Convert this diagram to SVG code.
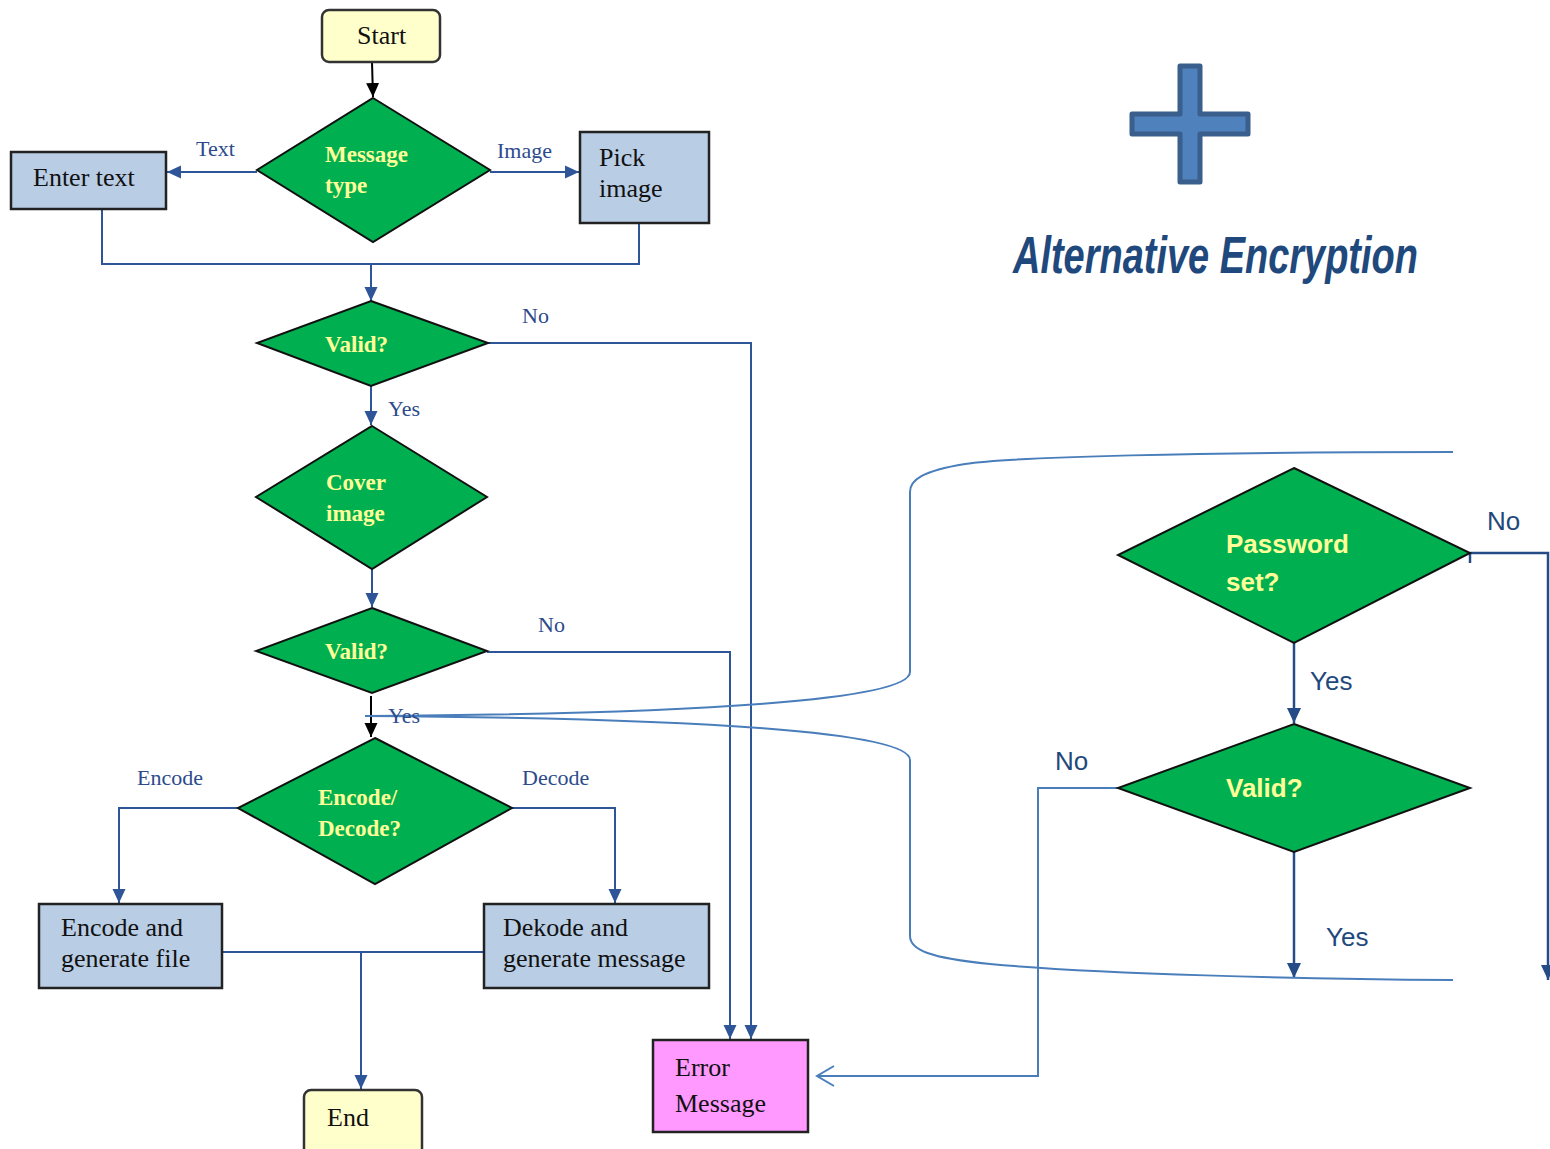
<svg xmlns="http://www.w3.org/2000/svg" width="1550" height="1149" viewBox="0 0 1550 1149">
<style>
.box{fill:#b9cde5;stroke:#222;stroke-width:2.5}
.term{fill:#ffffcc;stroke:#333;stroke-width:2.5}
.err{fill:#ff99ff;stroke:#222;stroke-width:2.5}
.dia{fill:#00b050;stroke:#111;stroke-width:2}
.st{font-family:"Liberation Serif",serif;font-size:26px;fill:#111}
.dt{font-family:"Liberation Serif",serif;font-size:23px;font-weight:bold;fill:#ffff99}
.lb{font-family:"Liberation Serif",serif;font-size:22px;fill:#2c4b8c}
.rd{font-family:"Liberation Sans",sans-serif;font-size:26px;font-weight:bold;fill:#ffff99}
.rl{font-family:"Liberation Sans",sans-serif;font-size:26px;fill:#1f497d}
.c{fill:none;stroke:#2e5597;stroke-width:2}
.ck{fill:none;stroke:#000;stroke-width:2}
.cr{fill:none;stroke:#254c86;stroke-width:2.5}
.cl{fill:none;stroke:#4a7ebb;stroke-width:2}
</style>
<defs>
<marker id="ab" markerUnits="userSpaceOnUse" markerWidth="15" markerHeight="14" refX="14" refY="7" orient="auto"><path d="M0,0.5 L14,7 L0,13.5 z" fill="#2e5597"/></marker>
<marker id="ak" markerUnits="userSpaceOnUse" markerWidth="15" markerHeight="14" refX="14" refY="7" orient="auto"><path d="M0,0.5 L14,7 L0,13.5 z" fill="#000"/></marker>
<marker id="ar" markerUnits="userSpaceOnUse" markerWidth="16" markerHeight="14" refX="15" refY="7" orient="auto"><path d="M0,0 L15,7 L0,14 z" fill="#254c86"/></marker>
<marker id="ao" markerUnits="userSpaceOnUse" markerWidth="20" markerHeight="22" refX="18" refY="11" orient="auto"><path d="M1,1 L18,11 L1,21" fill="none" stroke="#4a7ebb" stroke-width="2"/></marker>
</defs>

<g id="connectors">
<path class="ck" d="M372,62 L373,97" marker-end="url(#ak)"/>
<path class="c" d="M257,172 H167" marker-end="url(#ab)"/>
<path class="c" d="M490,172 H579" marker-end="url(#ab)"/>
<path class="c" d="M102,209 V264 H639 V223"/>
<path class="c" d="M371,264 V301" marker-end="url(#ab)"/>
<path class="c" d="M488,343 H751 V1039" marker-end="url(#ab)"/>
<path class="c" d="M371,386 V425" marker-end="url(#ab)"/>
<path class="c" d="M372,569 V607" marker-end="url(#ab)"/>
<path class="c" d="M487,652 H730 V1039" marker-end="url(#ab)"/>
<path class="ck" d="M371,696 V737" marker-end="url(#ak)"/>
<path class="c" d="M238,808 H119 V903" marker-end="url(#ab)"/>
<path class="c" d="M512,808 H615 V903" marker-end="url(#ab)"/>
<path class="c" d="M222,952 H484"/>
<path class="c" d="M361,952 V1089" marker-end="url(#ab)"/>
<path class="cr" d="M1294,643 V723" marker-end="url(#ar)"/>
<path class="cr" d="M1470,553 H1548 V980" marker-end="url(#ar)"/>
<path class="cr" d="M1470,553 V563"/>
<path class="cr" d="M1294,852 V978" marker-end="url(#ar)"/>
<path class="cl" d="M1118,788 H1038 V1076 H817" marker-end="url(#ao)"/>
</g>

<g id="brace">
<path class="cl" d="M1453,452 C1200,452 1010,457 965,464 C922,471 910,480 910,492 L910,672 C910,700 700,714 365,716"/>
<path class="cl" d="M365,716 C700,718 910,732 910,760 L910,936 C910,950 930,958 990,964 C1100,974 1300,979 1453,980"/>
</g>

<g id="start"><rect class="term" x="322" y="10" width="118" height="52" rx="7"/><text class="st" x="357" y="44">Start</text></g>
<g id="msgtype"><polygon class="dia" points="373,98 490,170 373,242 257,170"/><text class="dt" x="325" y="162">Message</text><text class="dt" x="325" y="193">type</text></g>
<g id="entertext"><rect class="box" x="11" y="152" width="155" height="57"/><text class="st" x="33" y="186">Enter text</text></g>
<g id="pickimage"><rect class="box" x="580" y="132" width="129" height="91"/><text class="st" x="599" y="166">Pick</text><text class="st" x="599" y="197">image</text></g>
<g id="valid1"><polygon class="dia" points="371,301 488,343 371,386 257,343"/><text class="dt" x="325" y="352">Valid?</text></g>
<g id="cover"><polygon class="dia" points="372,426 487,497 372,569 256,497"/><text class="dt" x="326" y="490">Cover</text><text class="dt" x="326" y="521">image</text></g>
<g id="valid2"><polygon class="dia" points="372,608 487,651 372,693 256,651"/><text class="dt" x="325" y="659">Valid?</text></g>
<g id="encdec"><polygon class="dia" points="375,738 512,808 375,884 238,808"/><text class="dt" x="318" y="805">Encode/</text><text class="dt" x="318" y="836">Decode?</text></g>
<g id="encodebox"><rect class="box" x="39" y="904" width="183" height="84"/><text class="st" x="61" y="936">Encode and</text><text class="st" x="61" y="967">generate file</text></g>
<g id="decodebox"><rect class="box" x="484" y="904" width="225" height="84"/><text class="st" x="503" y="936">Dekode and</text><text class="st" x="503" y="967">generate message</text></g>
<g id="end"><rect class="term" x="304" y="1090" width="118" height="70" rx="7"/><text class="st" x="327" y="1126">End</text></g>
<g id="error"><rect class="err" x="653" y="1040" width="155" height="92"/><text class="st" x="675" y="1076">Error</text><text class="st" x="675" y="1112">Message</text></g>

<g id="labels">
<text class="lb" x="196" y="156">Text</text>
<text class="lb" x="497" y="158">Image</text>
<text class="lb" x="522" y="323">No</text>
<text class="lb" x="388" y="416">Yes</text>
<text class="lb" x="538" y="632">No</text>
<text class="lb" x="388" y="723">Yes</text>
<text class="lb" x="137" y="785">Encode</text>
<text class="lb" x="522" y="785">Decode</text>
<text class="rl" x="1487" y="530">No</text>
<text class="rl" x="1310" y="690">Yes</text>
<text class="rl" x="1055" y="770">No</text>
<text class="rl" x="1326" y="946">Yes</text>
</g>

<g id="plus"><polygon points="1180,66 1200,66 1200,114 1248,114 1248,134 1200,134 1200,182 1180,182 1180,134 1132,134 1132,114 1180,114" fill="#4f81bd" stroke="#3a5f8c" stroke-width="5" stroke-linejoin="round"/></g>
<g id="title"><text transform="translate(1013,273) scale(0.73,1)" x="0" y="0" font-family="Liberation Sans, sans-serif" font-size="52" font-weight="bold" font-style="italic" fill="#1f497d">Alternative Encryption</text></g>

<g id="password"><polygon class="dia" points="1294,468 1470,553 1294,643 1118,555"/><text class="rd" x="1226" y="553">Password</text><text class="rd" x="1226" y="591">set?</text></g>
<g id="valid3"><polygon class="dia" points="1294,724 1470,788 1294,852 1118,788"/><text class="rd" x="1226" y="797">Valid?</text></g>
</svg>
